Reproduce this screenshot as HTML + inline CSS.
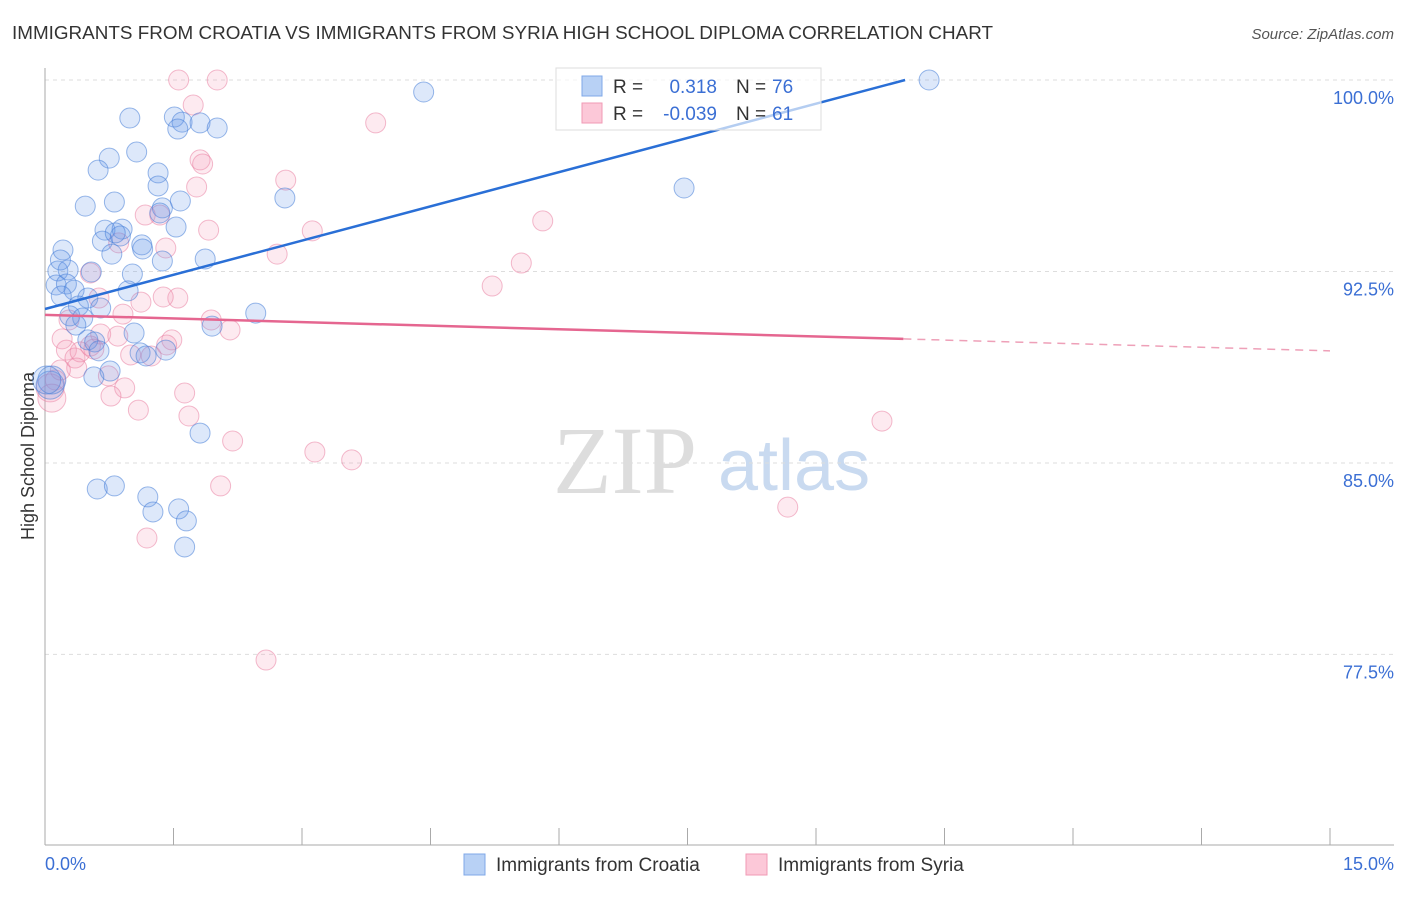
<!DOCTYPE html>
<html><head><meta charset="utf-8"><style>
body{margin:0;background:#fff;font-family:"Liberation Sans",sans-serif;}
</style></head><body>
<svg width="1406" height="892" xmlns="http://www.w3.org/2000/svg" id="svg">
<text x="12" y="39" font-size="18" fill="#333" textLength="981" lengthAdjust="spacingAndGlyphs">IMMIGRANTS FROM CROATIA VS IMMIGRANTS FROM SYRIA HIGH SCHOOL DIPLOMA CORRELATION CHART</text>
<text x="1394" y="39" font-size="15" fill="#555" font-style="italic" text-anchor="end">Source: ZipAtlas.com</text>
<g>
<text x="553" y="493" font-size="96" font-family="Liberation Serif,serif" fill="#ddd">ZIP</text>
<text x="718" y="490" font-size="72" fill="#c9daf0">atlas</text>
</g>
<g id="grid"></g>
<line x1="45" y1="68" x2="45" y2="845" stroke="#aaa"/>
<line x1="45" y1="845" x2="1394" y2="845" stroke="#aaa"/>
<g id="xticks"></g>
<text x="45" y="870" font-size="18" fill="#3b6fd4">0.0%</text>
<text x="1394" y="870" font-size="18" fill="#3b6fd4" text-anchor="end">15.0%</text>
<text transform="translate(34,456) rotate(-90)" font-size="18" fill="#333" text-anchor="middle">High School Diploma</text>
<g id="pts"></g>
<g id="trends"></g>
<g>
<rect x="556" y="68" width="265" height="62" fill="#fff" fill-opacity="0.65" stroke="#ddd"/>
<rect x="582" y="76" width="20" height="20" fill="#b8d1f5" stroke="#7fa8e8"/>
<rect x="582" y="103" width="20" height="20" fill="#fcc8d8" stroke="#f09ab5"/>
<text x="613" y="93" font-size="19" fill="#333">R = </text><text x="717" y="93" font-size="19" fill="#3b6fd4" text-anchor="end">0.318</text>
<text x="736" y="93" font-size="19" fill="#333">N = </text><text x="772" y="93" font-size="19" fill="#3b6fd4">76</text>
<text x="613" y="120" font-size="19" fill="#333">R = </text><text x="717" y="120" font-size="19" fill="#3b6fd4" text-anchor="end">-0.039</text>
<text x="736" y="120" font-size="19" fill="#333">N = </text><text x="772" y="120" font-size="19" fill="#3b6fd4">61</text>
</g>
<g>
<rect x="464" y="854" width="21" height="21" fill="#b8d1f5" stroke="#7fa8e8"/>
<text x="496" y="871" font-size="19" fill="#333">Immigrants from Croatia</text>
<rect x="746" y="854" width="21" height="21" fill="#fcc8d8" stroke="#f09ab5"/>
<text x="778" y="871" font-size="19" fill="#333">Immigrants from Syria</text>
</g>
</svg>
<script>
const yTicks=[100,92.5,85,77.5];
const yTickLabels=["100.0%","92.5%","85.0%","77.5%"];
const xTickVals=[0,1.5,3,4.5,6,7.5,9,10.5,12,13.5,15];
const croatiaX=[0.99,1.51,1.60,1.81,1.55,2.01,4.42,10.32,1.07,0.75,0.62,1.32,1.32,7.46,0.47,0.81,1.58,1.37,1.34,2.80,1.53,0.70,0.90,0.88,0.67,1.13,1.14,0.21,0.78,1.37,1.87,0.15,0.27,0.54,1.02,0.13,0.25,0.34,0.19,0.50,0.97,0.39,0.65,0.29,0.44,2.46,1.95,0.36,1.04,0.50,0.58,0.63,1.11,1.18,1.41,0.76,0.57,0.06,0.08,1.81,0.61,0.81,1.20,1.26,1.56,1.65,1.63,0.02,0.18,0.82];
const croatiaY=[98.51,98.55,98.35,98.32,98.08,98.12,99.53,100,97.18,96.94,96.47,96.36,95.85,95.77,95.06,95.22,95.26,94.99,94.79,95.38,94.24,94.12,94.16,93.89,93.69,93.54,93.38,93.34,93.18,92.91,92.99,92.52,92.56,92.48,92.40,91.97,92.01,91.77,91.54,91.46,91.74,91.15,91.07,90.76,90.68,90.87,90.36,90.40,90.09,89.82,89.74,89.39,89.31,89.19,89.42,88.60,88.37,88.05,88.25,86.17,83.98,84.10,83.67,83.08,83.20,82.73,81.71,88.25,92.95,94.01];
const syriaX=[1.56,2.01,1.73,3.86,1.81,1.84,2.81,1.77,1.17,1.34,5.81,1.91,3.12,1.41,0.86,2.71,5.56,0.53,5.22,1.55,1.38,1.12,0.63,0.91,0.28,1.94,2.16,0.65,0.85,1.48,0.20,0.25,0.53,0.57,1.00,1.24,0.35,0.41,0.37,0.74,0.93,0.77,1.63,1.09,1.68,2.19,3.15,3.58,2.05,1.19,8.67,9.77,2.58,0.06,0.12,0.08,0.18,1.42];
const syriaY=[100,100,99.02,98.32,96.87,96.71,96.08,95.81,94.71,94.71,94.48,94.12,94.09,93.42,93.62,93.18,92.83,92.44,91.93,91.46,91.50,91.30,91.46,90.83,90.60,90.60,90.21,90.05,89.97,89.82,89.86,89.42,89.58,89.46,89.23,89.19,89.11,89.35,88.72,88.41,87.94,87.62,87.74,87.07,86.84,85.86,85.43,85.12,84.10,82.06,83.27,86.64,77.28,87.94,88.25,87.54,88.64,89.62];
const croatiaTrend=[91.03,100]; const croatiaTrendEnd=10.04;
const syriaTrend=[90.80,89.39]; const syriaSolidEnd=10.02;
const NS="http://www.w3.org/2000/svg";
const xs=v=>45+v/15*1285;
const ys=v=>80+(100-v)*25.53;
function mk(t,a,p){const e=document.createElementNS(NS,t);for(const k in a)e.setAttribute(k,a[k]);p.appendChild(e);return e;}
const grid=document.getElementById('grid');
yTicks.forEach((t,i)=>{
 const l=mk('line',{x1:45,x2:1394,y1:ys(t),y2:ys(t),stroke:'#ddd','stroke-dasharray':'4,4'},grid);
 
 
 const tx=mk('text',{x:1394,y:ys(t)+24,'font-size':18,fill:'#3b6fd4','text-anchor':'end'},grid);
 tx.textContent=yTickLabels[i];
 
 
});
const xt=document.getElementById('xticks');
xTickVals.forEach(v=>{const l=mk('line',{x1:xs(v),x2:xs(v),y1:828,y2:845,stroke:'#aaa'},xt);
 
 });
const pts=document.getElementById('pts');
function draw(X,Y,fill,stroke,name){X.forEach((x,i)=>{
 const r=x<0.1?14:10;
 const c=mk('circle',{cx:xs(x),cy:ys(Y[i]),r:r,fill:fill,stroke:stroke,'stroke-width':1},pts);
 
 });}
draw(syriaX,syriaY,'rgba(245,150,180,0.2)','rgba(232,120,155,0.5)','syria-point');
draw(croatiaX,croatiaY,'rgba(100,150,230,0.22)','rgba(70,125,215,0.55)','croatia-point');
const tr=document.getElementById('trends');
const sl=(a,x)=>a[0]+(a[1]-a[0])*x/15;
const cl=x=>croatiaTrend[0]+(croatiaTrend[1]-croatiaTrend[0])*x/croatiaTrendEnd;
let l1=mk('line',{x1:xs(0),y1:ys(cl(0)),x2:xs(croatiaTrendEnd),y2:ys(cl(croatiaTrendEnd)),stroke:'#2a6fd6','stroke-width':2.5},tr);


let l2=mk('line',{x1:xs(0),y1:ys(sl(syriaTrend,0)),x2:xs(syriaSolidEnd),y2:ys(sl(syriaTrend,syriaSolidEnd)),stroke:'#e56690','stroke-width':2.5},tr);


let l3=mk('line',{x1:xs(syriaSolidEnd),y1:ys(sl(syriaTrend,syriaSolidEnd)),x2:xs(15),y2:ys(sl(syriaTrend,15)),stroke:'#eea0b8','stroke-width':1.5,'stroke-dasharray':'8,6'},tr);


</script>
</body></html>
